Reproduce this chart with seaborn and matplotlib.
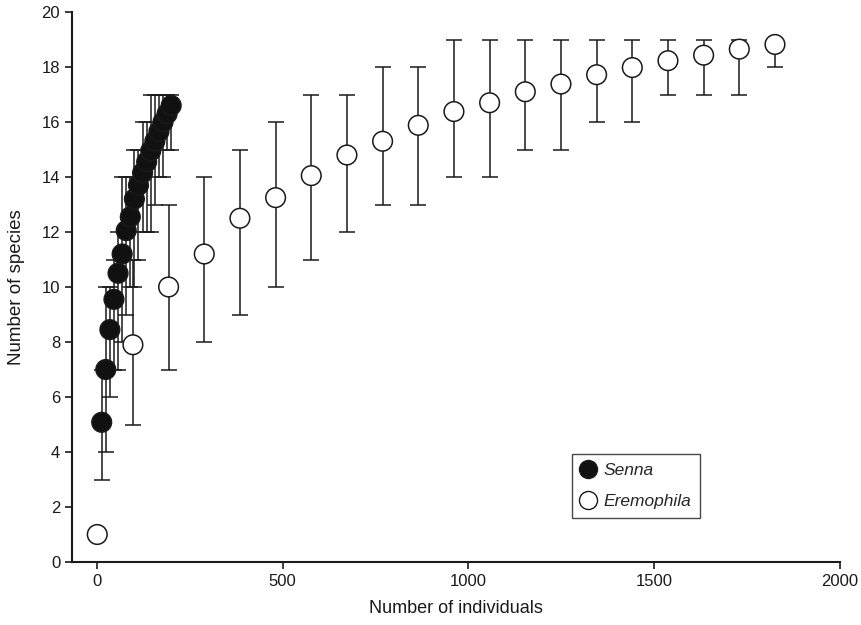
import matplotlib
matplotlib.use("Agg")
import matplotlib.pyplot as plt
from matplotlib.lines import Line2D
import seaborn as sns
import pandas as pd
import numpy as np

# Senna: rarefaction curve (mean, min, max)
senna_x = [13, 24, 35, 46, 57, 68, 79, 90, 101, 112, 123, 134, 145, 156, 167, 178, 189, 200]
senna_y = [5.08, 7.0, 8.45, 9.55, 10.5, 11.2, 12.05, 12.55, 13.2, 13.7, 14.15, 14.55, 14.95, 15.3, 15.65, 16.0, 16.3, 16.6]
senna_lo = [3, 4, 6, 7, 7, 8, 9, 10, 10, 11, 12, 12, 12, 13, 14, 14, 15, 15]
senna_hi = [7, 10, 10, 11, 12, 14, 14, 14, 15, 15, 16, 16, 17, 17, 17, 17, 17, 17]

# Eremophila
erem_x = [1, 97, 193, 289, 385, 481, 577, 673, 769, 865, 961, 1057, 1153, 1249, 1345, 1441, 1537, 1633, 1729, 1825]
erem_y = [1.0, 7.9, 10.0, 11.2, 12.5, 13.25, 14.05, 14.8, 15.3, 15.88, 16.38, 16.7, 17.1, 17.38, 17.72, 17.98, 18.23, 18.43, 18.65, 18.82]
erem_lo = [1, 5, 7, 8, 9, 10, 11, 12, 13, 13, 14, 14, 15, 15, 16, 16, 17, 17, 17, 18]
erem_hi = [1, 11, 13, 14, 15, 16, 17, 17, 18, 18, 19, 19, 19, 19, 19, 19, 19, 19, 19, 19]

df = pd.concat([
    pd.DataFrame({"x": senna_x, "y": senna_y, "lo": senna_lo, "hi": senna_hi, "genus": "Senna"}),
    pd.DataFrame({"x": erem_x, "y": erem_y, "lo": erem_lo, "hi": erem_hi, "genus": "Eremophila"}),
])

sns.set_style("ticks")
plt.rcParams["font.family"] = ["Liberation Sans", "DejaVu Sans"]

fig = plt.figure(figsize=(8.61, 6.25), dpi=100)
ax = fig.add_axes([0.0836, 0.1008, 0.892, 0.88])

# 誤差線
for g in ["Senna", "Eremophila"]:
    d = df[df.genus == g]
    ax.errorbar(d.x, d.y, yerr=[d.y - d.lo, d.hi - d.y], fmt="none",
                ecolor="#1a1a1a", elinewidth=1.1, capsize=6, capthick=1.1, zorder=2)

sns.scatterplot(data=df, x="x", y="y", hue="genus",
                palette={"Senna": "#111111", "Eremophila": "white"},
                edgecolor="#1a1a1a", linewidth=1.1, s=200, legend=False, ax=ax, zorder=3)

ax.set_xlim(-67, 2000)
ax.set_ylim(0, 20)
ax.set_xticks([0, 500, 1000, 1500, 2000])
ax.set_yticks(range(0, 21, 2))
ax.tick_params(labelsize=12, length=5, width=1.2, color="#1a1a1a", labelcolor="#1a1a1a")
for s in ["left", "bottom"]:
    ax.spines[s].set_linewidth(1.5)
    ax.spines[s].set_color("#1a1a1a")
sns.despine(ax=ax)

ax.set_xlabel("Number of individuals", fontsize=13, color="#1a1a1a", labelpad=8)
ax.set_ylabel("Number of species", fontsize=13.5, color="#1a1a1a", labelpad=12)

handles = [
    Line2D([], [], marker="o", ls="none", markersize=13, markerfacecolor="#111111", markeredgecolor="#1a1a1a"),
    Line2D([], [], marker="o", ls="none", markersize=13, markerfacecolor="white", markeredgecolor="#1a1a1a"),
]
leg = ax.legend(handles, ["Senna", "Eremophila"], loc="lower left", bbox_to_anchor=(0.651, 0.08),
                frameon=True, fancybox=False, edgecolor="#1a1a1a", handlelength=0.9,
                handletextpad=0.4, borderpad=0.5, borderaxespad=0.0, labelspacing=0.95,
                prop={"style": "italic", "size": 12.5})
leg.get_frame().set_linewidth(1.0)

fig.savefig("out.png", dpi=100)
